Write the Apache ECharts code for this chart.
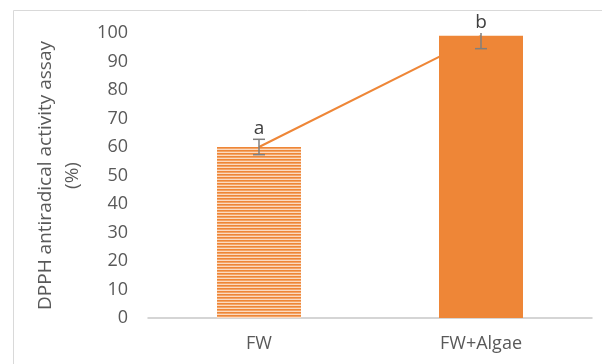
<!DOCTYPE html>
<html>
<head>
<meta charset="utf-8">
<script src="https://cdn.jsdelivr.net/npm/echarts@6/dist/echarts.min.js"></script>
<style>html,body{margin:0;padding:0;background:#fff}#c{width:602px;height:364px}</style>
</head>
<body>
<div id="c"></div>
<script>
const categories = ['FW', 'FW+Algae'];
const values = [60, 99];
const errors = [2.7, 4.5];
const letters = ['a', 'b'];
const yTicks = [0, 10, 20, 30, 40, 50, 60, 70, 80, 90, 100];

const ORANGE = '#EE8637';
const TEXT = '#595959';
const FONT = '"Open Sans", "Liberation Sans", sans-serif';

// striped fill for the first bar
const pat = document.createElement('canvas');
pat.width = 4; pat.height = 3;
const pc = pat.getContext('2d');
pc.fillStyle = ORANGE; pc.fillRect(0, 0, 4, 1);
pc.fillStyle = '#F3A467'; pc.fillRect(0, 1, 4, 1);
pc.fillStyle = '#FBDAC0'; pc.fillRect(0, 2, 4, 1);

const chart = echarts.init(document.getElementById('c'), null, {renderer: 'canvas'});
const yMax = yTicks[yTicks.length - 1];

chart.setOption({
  animation: false,
  backgroundColor: '#fff',
  grid: {left: 148, right: 10, top: 33, bottom: 46},
  graphic: [
    {type: 'line', shape: {x1: 13.5, y1: 10.5, x2: 602, y2: 10.5}, style: {stroke: '#d9d9d9', lineWidth: 1}},
    {type: 'line', shape: {x1: 13.5, y1: 10.5, x2: 13.5, y2: 364}, style: {stroke: '#d9d9d9', lineWidth: 1}}
  ],
  xAxis: {
    type: 'category',
    data: categories,
    axisTick: {show: false},
    axisLine: {lineStyle: {color: '#c8c8c8', width: 1.5}},
    axisLabel: {color: TEXT, fontFamily: FONT, fontSize: 18, margin: 17}
  },
  yAxis: {
    type: 'value',
    min: yTicks[0], max: yMax, interval: 10,
    axisLine: {show: false},
    axisTick: {show: false},
    splitLine: {show: false},
    axisLabel: {color: TEXT, fontFamily: FONT, fontSize: 18, margin: 20},
    name: 'DPPH antiradical activity assay\n(%)',
    nameLocation: 'middle',
    nameRotate: 90,
    nameGap: 59,
    nameTextStyle: {color: TEXT, fontFamily: FONT, fontSize: 19, lineHeight: 27}
  },
  series: [
    {
      type: 'line',
      data: values,
      z: 1,
      symbol: 'none',
      lineStyle: {color: ORANGE, width: 2},
      itemStyle: {color: ORANGE}
    },
    {
      type: 'bar',
      z: 2,
      barWidth: 84,
      data: values.map((v, i) => ({
        value: v,
        itemStyle: {color: i === 0 ? {image: pat, repeat: 'repeat'} : ORANGE}
      }))
    },
    {
      type: 'custom',
      z: 5,
      clip: true,
      data: values.map((v, i) => [i, v, errors[i]]),
      renderItem: function (params, api) {
        const x = api.value(0), v = api.value(1), e = api.value(2);
        const hi = api.coord([x, v + e]);
        const lo = api.coord([x, v - e]);
        const w = 6;
        return {
          type: 'group',
          children: [
            {type: 'line', shape: {x1: hi[0], y1: hi[1], x2: lo[0], y2: lo[1]}, style: {stroke: '#7f7f7f', lineWidth: 1.5}},
            {type: 'line', shape: {x1: hi[0] - w, y1: hi[1], x2: hi[0] + w, y2: hi[1]}, style: {stroke: '#7f7f7f', lineWidth: 1.5}},
            {type: 'line', shape: {x1: lo[0] - w, y1: lo[1], x2: lo[0] + w, y2: lo[1]}, style: {stroke: '#7f7f7f', lineWidth: 1.5}}
          ]
        };
      }
    },
    {
      type: 'custom',
      z: 6,
      clip: false,
      data: values.map((v, i) => [i, v, errors[i]]),
      renderItem: function (params, api) {
        const x = api.value(0), v = api.value(1), e = api.value(2);
        const top = api.coord([x, Math.min(v + e, yMax)]);
        return {
          type: 'text',
          style: {
            text: letters[params.dataIndex],
            x: top[0], y: top[1] - 1,
            align: 'center', verticalAlign: 'bottom',
            fill: '#404040', font: '19px ' + FONT
          }
        };
      }
    }
  ]
});
</script>
</body>
</html>
